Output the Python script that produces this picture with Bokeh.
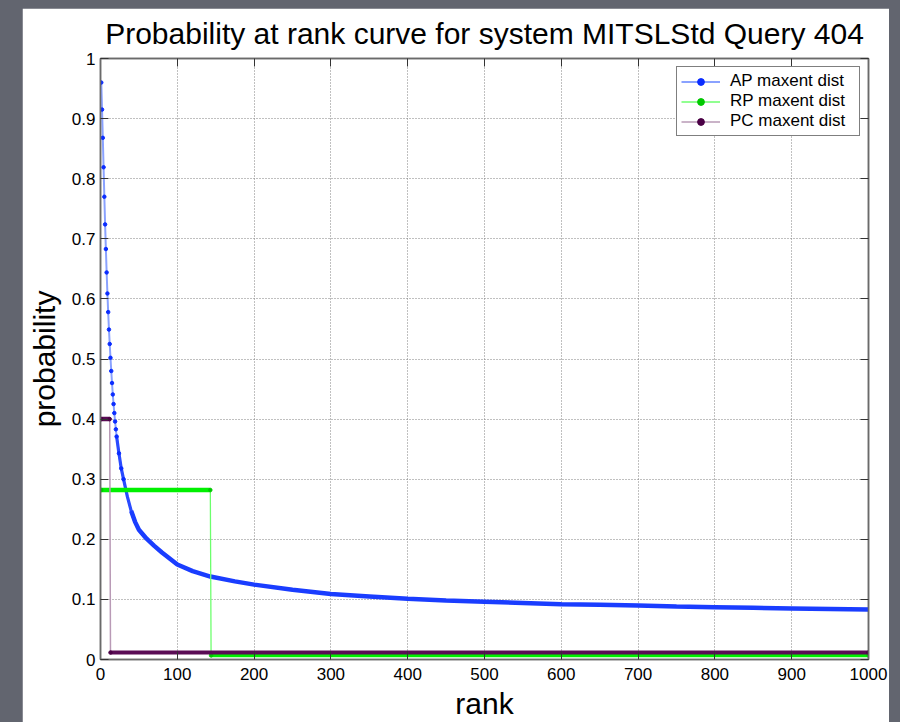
from bokeh.plotting import figure
from bokeh.models import LinearAxis, FixedTicker, Legend, LegendItem, Range1d
from bokeh.layouts import column
from bokeh.embed import file_html
from bokeh.resources import INLINE

# ---- data ----
ap_ranks = [1, 2, 3, 4, 5, 6, 7, 8, 9, 10, 11, 12, 13, 14, 15, 16, 17, 18, 19, 20, 21,
            24, 27, 30, 35, 40, 45, 50, 60, 70, 80, 100, 120, 143, 175, 200, 250, 300,
            350, 400, 450, 500, 550, 600, 650, 700, 750, 800, 850, 900, 950, 1000]
ap_values = [0.960, 0.915, 0.868, 0.819, 0.770, 0.724, 0.683, 0.644, 0.609, 0.578, 0.549,
             0.525, 0.502, 0.480, 0.460, 0.441, 0.425, 0.410, 0.396, 0.383, 0.371,
             0.343, 0.318, 0.300, 0.271, 0.247, 0.229, 0.216, 0.201, 0.189, 0.178, 0.158,
             0.147, 0.138, 0.130, 0.1246, 0.116, 0.109, 0.105, 0.101, 0.098, 0.096, 0.094,
             0.092, 0.091, 0.090, 0.088, 0.087, 0.086, 0.085, 0.084, 0.083]
rp_ranks = [1, 143, 144, 1000]
rp_values = [0.282, 0.282, 0.0068, 0.0068]
pc_ranks = [1, 12, 13, 1000]
pc_values = [0.400, 0.400, 0.0115, 0.0115]
series_names = ["AP maxent dist", "RP maxent dist", "PC maxent dist"]
x_ticks = [0, 100, 200, 300, 400, 500, 600, 700, 800, 900, 1000]
y_ticks = [0, 0.1, 0.2, 0.3, 0.4, 0.5, 0.6, 0.7, 0.8, 0.9, 1]
y_tick_labels = ["0", "0.1", "0.2", "0.3", "0.4", "0.5", "0.6", "0.7", "0.8", "0.9", "1"]
title_text = "Probability at rank curve for system MITSLStd Query 404"

FONT = "Liberation Sans"
AXIS_COL = "#6a6a6a"

p = figure(frame_width=768, frame_height=602,
           x_range=Range1d(0, 1000), y_range=Range1d(0, 1),
           output_backend="svg", toolbar_location=None,
           min_border_left=78, min_border_right=21, min_border_top=50, min_border_bottom=62,
           background_fill_color="white", border_fill_color="white",
           title=title_text)
p.margin = (8, 0, 0, 22)
p.outline_line_color = AXIS_COL
p.outline_line_width = 1.5

p.title.text_font = FONT
p.title.text_font_size = "30px"
p.title.text_font_style = "normal"
p.title.text_color = "black"
p.title.align = "center"
p.title.vertical_align = "top"
p.title.standoff = 14

xt = FixedTicker(ticks=x_ticks)
yt = FixedTicker(ticks=y_ticks)

for ax in p.xaxis + p.yaxis:
    ax.axis_line_color = AXIS_COL
    ax.axis_line_width = 1.5
    ax.major_tick_in = 8
    ax.major_tick_out = 0
    ax.major_tick_line_color = "#333333"
    ax.minor_tick_line_color = None
    ax.major_label_text_font = FONT
    ax.major_label_text_font_size = "17px"
    ax.major_label_text_color = "black"
    ax.axis_label_text_font = FONT
    ax.axis_label_text_font_size = "30px"
    ax.axis_label_text_font_style = "normal"
    ax.axis_label_text_color = "black"

p.xaxis.ticker = xt
p.yaxis.ticker = yt
p.yaxis.major_label_overrides = {t: s for t, s in zip(y_ticks, y_tick_labels)}
p.xaxis.axis_label = "rank"
p.yaxis.axis_label = "probability"
p.xaxis.major_label_standoff = 8
p.yaxis.major_label_standoff = 5
p.xaxis.axis_label_standoff = 4
p.yaxis.axis_label_standoff = 8

# box-style top and right axes: ticks only, no labels drawn
for loc, tk in (("above", xt), ("right", yt)):
    ax = LinearAxis(ticker=tk, major_label_text_font_size="1px", major_label_text_color=None,
                    major_label_standoff=0,
                    major_tick_in=8, major_tick_out=0, major_tick_line_color="#333333",
                    minor_tick_line_color=None, axis_line_color=AXIS_COL, axis_line_width=1.5)
    p.add_layout(ax, loc)

p.xgrid.ticker = xt
p.ygrid.ticker = yt
for g in (p.xgrid[0], p.ygrid[0]):
    g.grid_line_color = "#808080"
    g.grid_line_dash = "1 2"
    g.grid_line_width = 1

# ---- AP ----
mid_r = [r for r in ap_ranks if 21 <= r <= 45]
mid_v = [v for r, v in zip(ap_ranks, ap_values) if 21 <= r <= 45]
dense_r = [r for r in ap_ranks if r >= 40]
dense_v = [v for r, v in zip(ap_ranks, ap_values) if r >= 40]
sparse_r = [r for r in ap_ranks if r <= 30]
sparse_v = [v for r, v in zip(ap_ranks, ap_values) if r <= 30]
ap_line = p.line(ap_ranks, ap_values, line_color="#8aa2ff", line_width=2)
p.line(mid_r, mid_v, line_color="#2a4bff", line_width=3.2)
p.line(dense_r, dense_v, line_color="#1a3dff", line_width=4.5)
ap_mark = p.scatter(sparse_r, sparse_v, marker="circle", size=3.5,
                    fill_color="#0a2cff", line_color="#0a2cff")

# ---- RP ----
rp_line = p.line(rp_ranks, rp_values, line_color="#6cff6c", line_width=1.3)
p.line(rp_ranks[0:2], rp_values[0:2], line_color="#00f000", line_width=4.5)
p.line(rp_ranks[2:4], rp_values[2:4], line_color="#00f000", line_width=3.5)
rp_mark = p.scatter(rp_ranks, rp_values, marker="circle", size=3.5,
                    fill_color="#00c800", line_color="#00c800")

# ---- PC ----
pc_line = p.line(pc_ranks, pc_values, line_color="#b99ab6", line_width=1.5)
p.line(pc_ranks[0:2], pc_values[0:2], line_color="#5a0c55", line_width=4.5)
p.line(pc_ranks[2:4], pc_values[2:4], line_color="#5a0c55", line_width=4)
pc_mark = p.scatter(pc_ranks, pc_values, marker="circle", size=3.5,
                    fill_color="#4a0045", line_color="#4a0045")

legend = Legend(items=[
    LegendItem(label=series_names[0], renderers=[ap_line, ap_mark]),
    LegendItem(label=series_names[1], renderers=[rp_line, rp_mark]),
    LegendItem(label=series_names[2], renderers=[pc_line, pc_mark]),
], location="top_right")
legend.border_line_color = "black"
legend.border_line_width = 1
legend.background_fill_color = "white"
legend.background_fill_alpha = 1
legend.label_text_font = FONT
legend.label_text_font_size = "17px"
legend.label_text_color = "black"
legend.glyph_width = 39
legend.glyph_height = 17
legend.label_height = 17
legend.label_width = 125
legend.label_standoff = 10
legend.padding = 4
legend.spacing = 0
legend.margin = 8
p.add_layout(legend)

layout = column(p, width=900, height=722, styles={"background-color": "#62656f"})

open("out.html", "w").write(file_html(layout, INLINE))
